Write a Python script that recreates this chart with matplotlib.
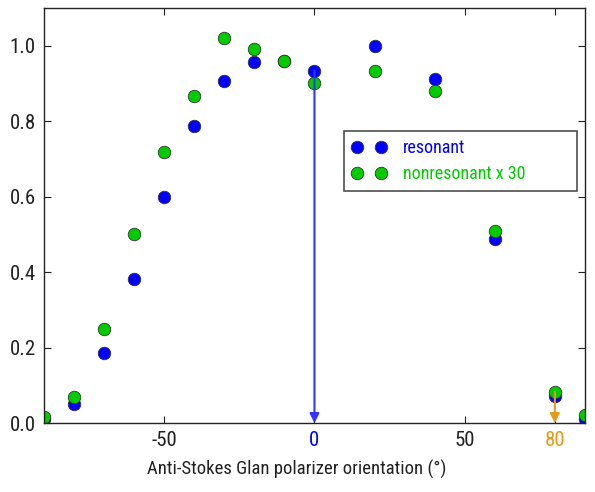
import matplotlib
matplotlib.use("Agg")
import matplotlib.pyplot as plt

angles = [-90, -80, -70, -60, -50, -40, -30, -20, -10, 0, 20, 40, 60, 80, 90]
resonant = [0.010, 0.050, 0.187, 0.383, 0.599, 0.786, 0.906, 0.956, 0.960, 0.934, 1.000, 0.911, 0.489, 0.072, 0.012]
nonresonant = [0.015, 0.070, 0.250, 0.502, 0.718, 0.867, 1.019, 0.990, 0.960, 0.900, 0.932, 0.879, 0.509, 0.083, 0.022]
xticks = [-50, 0, 50, 80]
yticks = [0.0, 0.2, 0.4, 0.6, 0.8, 1.0]

plt.rcParams['font.family'] = ['Roboto Condensed', 'DejaVu Sans']

fig = plt.figure(figsize=(5.95, 4.92), dpi=100)
ax = fig.add_axes([0.074, 0.140, 0.909, 0.844])

ax.plot(angles, resonant, 'o', color='#0000ff', mec='#333333', mew=0.6, ms=9, label='resonant')
ax.plot(angles, nonresonant, 'o', color='#00cc00', mec='#333333', mew=0.6, ms=9, label='nonresonant x 30')

ax.annotate('', xy=(0, 0.0), xytext=(0, resonant[angles.index(0)]),
            arrowprops=dict(arrowstyle='-|>', color='#3333ff', lw=1.5, mutation_scale=14, shrinkA=0, shrinkB=0))
ax.annotate('', xy=(80, 0.0), xytext=(80, nonresonant[angles.index(80)]),
            arrowprops=dict(arrowstyle='-|>', color='#e69a1a', lw=1.5, mutation_scale=14, shrinkA=0, shrinkB=0))

ax.set_xlim(-90, 90)
ax.set_ylim(0, 1.1)
ax.set_xticks(xticks)
ax.set_xticklabels([str(t) for t in xticks])
ax.set_yticks(yticks)
ax.set_yticklabels([f'{t:.1f}' for t in yticks])
ax.tick_params(direction='in', top=True, right=True, length=5, width=0.8, labelsize=15, colors='#222222', pad=6)
labs = ax.get_xticklabels()
labs[1].set_color('#0000ff')
labs[3].set_color('#e69a1a')
for s in ax.spines.values():
    s.set_color('#222222')
    s.set_linewidth(1.0)

ax.set_xlabel('Anti-Stokes Glan polarizer orientation (°)', fontsize=13.5, color='#222222')
ax.xaxis.set_label_coords(0.4677, -0.088)

leg = ax.legend(loc='upper left', bbox_to_anchor=(0.5545, 0.5687, 0.4307, 0.135), mode='expand',
                borderaxespad=0, numpoints=2, fontsize=13,
                frameon=True, fancybox=False, borderpad=0.45, handletextpad=0.9, labelspacing=0.45,
                handlelength=1.9)
leg.get_frame().set_edgecolor('#222222')
leg.get_frame().set_linewidth(1.2)
for txt, c in zip(leg.get_texts(), ['#0000ff', '#00cc00']):
    txt.set_color(c)

fig.savefig('out.png', dpi=100)
